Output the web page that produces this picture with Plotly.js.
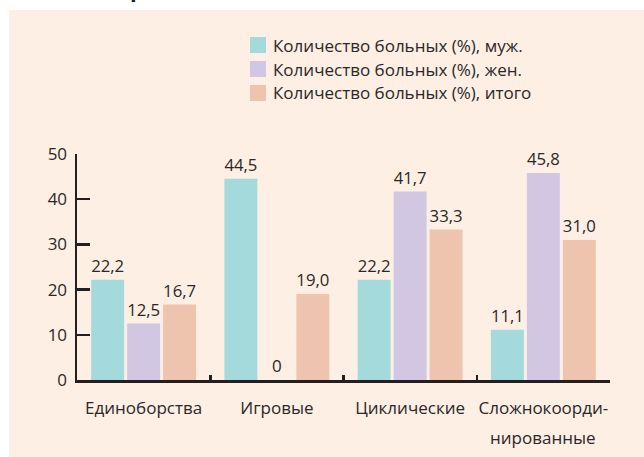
<!DOCTYPE html>
<html><head><meta charset="utf-8">
<script src="https://cdn.plot.ly/plotly-3.0.1.min.js"></script>
<style>html,body{margin:0;padding:0;background:#fff;}#chart{width:644px;height:457px;}</style>
</head><body><div id="chart"></div>
<script>
var categories = ['Единоборства', 'Игровые', 'Циклические', 'Сложнокоорди-\nнированные'];
var seriesNames = ['Количество больных (%), муж.', 'Количество больных (%), жен.', 'Количество больных (%), итого'];
var men   = [22.2, 44.5, 22.2, 11.1];
var women = [12.5, 0, 41.7, 45.8];
var total = [16.7, 19.0, 33.3, 31.0];
var yTicks = [0, 10, 20, 30, 40, 50];

var colors = ['#a5dadc', '#d2c7e2', '#eec4ae'];
var FONT = 'Open Sans, Noto Sans, sans-serif';
var TXT = '#2b2728';
var fs = 17;

function fmt(v){ return v === 0 ? '0' : v.toFixed(1).replace('.', ','); }
var firstLines = categories.map(function(c){ return c.split('\n')[0]; });
var series = [men, women, total];
var traces = series.map(function(vals, i){
  return {
    type: 'bar', name: seriesNames[i], x: firstLines, y: vals,
    marker: {color: colors[i], line: {width: 0}},
    text: vals.map(fmt), textposition: 'outside', cliponaxis: false,
    textfont: {family: FONT, size: fs, color: TXT},
    showlegend: false, hoverinfo: 'skip'
  };
});

var shapes = [{type: 'rect', xref: 'paper', yref: 'paper', layer: 'below',
  x0: (9-77)/533, x1: (650-77)/533, y0: (380-460)/226, y1: (380-10)/226,
  fillcolor: '#fdefe3', line: {width: 0}}];
var annotations = [];
// cut-off title fragment at the top edge
annotations.push({xref: 'paper', yref: 'paper', x: (137-77)/533, y: (380-5)/226,
  xanchor: 'center', yanchor: 'bottom', showarrow: false, text: '<b>р</b>',
  font: {family: FONT, size: 22, color: '#231f20'}});
// manual legend
seriesNames.forEach(function(n, i){
  var cy = 45 + i*24;
  shapes.push({type: 'rect', xref: 'paper', yref: 'paper',
    x0: (250-77)/533, x1: (266-77)/533, y0: (380-(cy+8))/226, y1: (380-(cy-8))/226,
    fillcolor: colors[i], line: {width: 0}});
  annotations.push({xref: 'paper', yref: 'paper', x: (271-77)/533, y: (380-cy)/226,
    xanchor: 'left', yanchor: 'middle', showarrow: false, text: n,
    font: {family: FONT, size: fs, color: TXT}});
});
// extra label lines
categories.forEach(function(c){
  var parts = c.split('\n');
  for (var k = 1; k < parts.length; k++) {
    annotations.push({xref: 'x', yref: 'paper', x: parts[0], y: (380-(409+28*k))/226,
      xanchor: 'center', yanchor: 'middle', showarrow: false, text: parts[k],
      font: {family: FONT, size: fs, color: TXT}});
  }
});

var layout = {
  width: 644, height: 457,
  margin: {l: 77, r: 34, t: 154, b: 77},
  paper_bgcolor: '#ffffff', plot_bgcolor: 'rgba(0,0,0,0)',
  barmode: 'group', bargap: 0.19, bargroupgap: 0.083,
  font: {family: FONT, size: fs, color: TXT},
  xaxis: {type: 'category', showline: true, linecolor: '#231f20', linewidth: 2.5,
    ticks: 'inside', tickson: 'boundaries', ticklen: 5, tickwidth: 2.5, tickcolor: '#231f20',
    ticklabelstandoff: 11, tickangle: 0,
    showgrid: false, zeroline: false, fixedrange: true,
    tickfont: {family: FONT, size: fs, color: TXT}},
  yaxis: {range: [0, 50], tickvals: yTicks, showline: true, linecolor: '#231f20', linewidth: 2.5,
    ticks: 'inside', ticklen: 13, tickwidth: 2.5, tickcolor: '#231f20',
    ticklabelstandoff: 4,
    showgrid: false, zeroline: false, fixedrange: true,
    tickfont: {family: FONT, size: fs, color: TXT}},
  shapes: shapes, annotations: annotations
};
Plotly.newPlot('chart', traces, layout, {staticPlot: true, displayModeBar: false});
</script></body></html>
